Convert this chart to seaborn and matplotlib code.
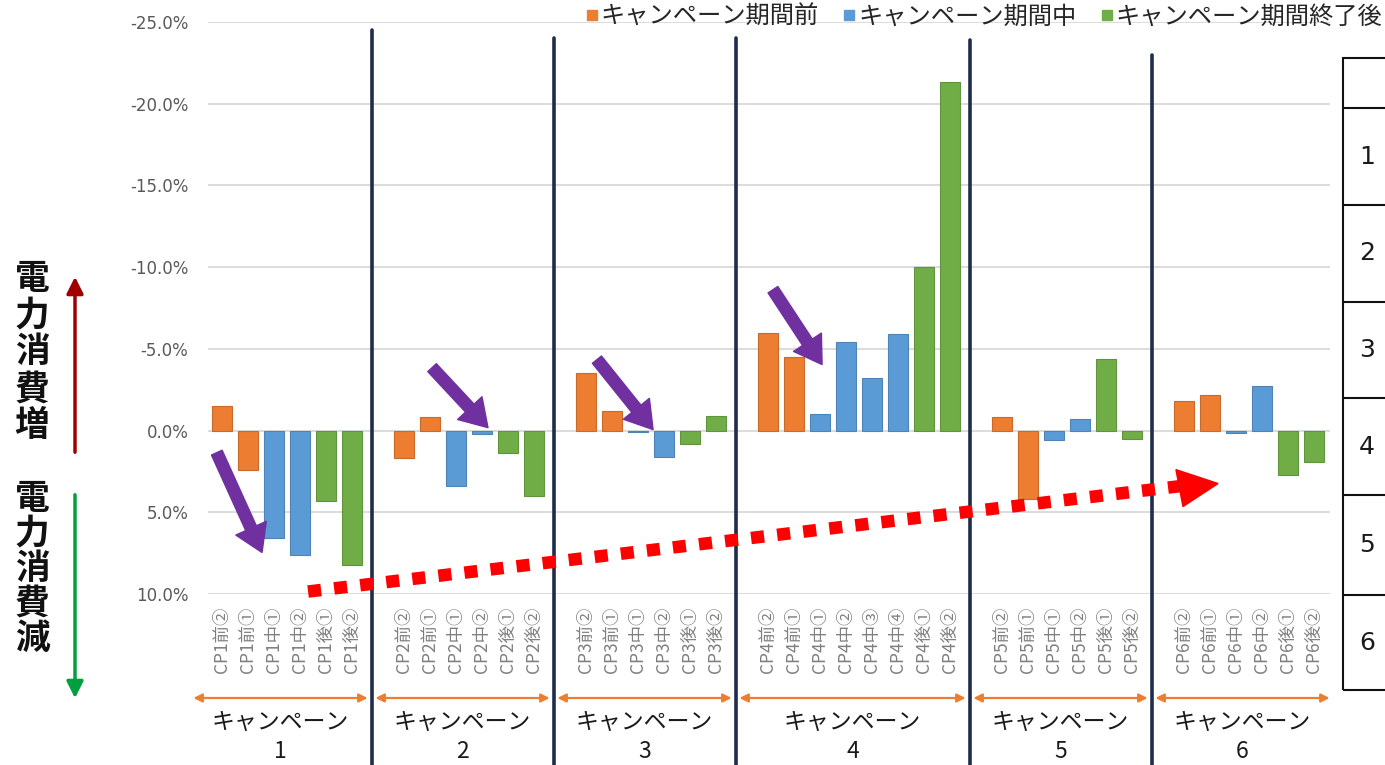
import matplotlib
matplotlib.use("Agg")
import matplotlib.pyplot as plt
import seaborn as sns
import pandas as pd
import numpy as np
from matplotlib.lines import Line2D
from matplotlib.patches import Polygon, Rectangle, FancyArrowPatch
from matplotlib.transforms import blended_transform_factory
from matplotlib.ticker import FuncFormatter, FixedLocator

# ---- data -------------------------------------------------------------
campaigns = ["1", "2", "3", "4", "5", "6"]

cp1_labels = ["CP1前②", "CP1前①", "CP1中①", "CP1中②", "CP1後①", "CP1後②"]
cp2_labels = ["CP2前②", "CP2前①", "CP2中①", "CP2中②", "CP2後①", "CP2後②"]
cp3_labels = ["CP3前②", "CP3前①", "CP3中①", "CP3中②", "CP3後①", "CP3後②"]
cp4_labels = ["CP4前②", "CP4前①", "CP4中①", "CP4中②", "CP4中③", "CP4中④", "CP4後①", "CP4後②"]
cp5_labels = ["CP5前②", "CP5前①", "CP5中①", "CP5中②", "CP5後①", "CP5後②"]
cp6_labels = ["CP6前②", "CP6前①", "CP6中①", "CP6中②", "CP6後①", "CP6後②"]

# change in power consumption (%), negative = consumption increased
cp1_values = [-1.5, 2.4, 6.6, 7.6, 4.3, 8.2]
cp2_values = [1.7, -0.8, 3.4, 0.2, 1.4, 4.0]
cp3_values = [-3.5, -1.2, 0.1, 1.6, 0.8, -0.9]
cp4_values = [-6.0, -4.5, -1.0, -5.4, -3.2, -5.9, -10.0, -21.3]
cp5_values = [-0.8, 4.2, 0.6, -0.7, -4.4, 0.5]
cp6_values = [-1.8, -2.2, 0.15, -2.7, 2.7, 1.9]

phase_names = ["キャンペーン期間前", "キャンペーン期間中", "キャンペーン期間終了後"]
phase_keys = ["前", "中", "後"]
phase_colors = ["#ED7D31", "#5B9BD5", "#70AD47"]

y_ticks = [-25, -20, -15, -10, -5, 0, 5, 10]

group_labels = [cp1_labels, cp2_labels, cp3_labels, cp4_labels, cp5_labels, cp6_labels]
group_values = [cp1_values, cp2_values, cp3_values, cp4_values, cp5_values, cp6_values]

# ---- table for seaborn ------------------------------------------------
rows = []
order = []
group_spans = []  # (first slot, last slot) per campaign
for gi, (labs, vals) in enumerate(zip(group_labels, group_values)):
    first = len(order)
    for lab, val in zip(labs, vals):
        phase = phase_names[phase_keys.index(lab[3])]
        rows.append({"label": lab, "value": val, "phase": phase})
        order.append(lab)
    group_spans.append((first, len(order) - 1))
    if gi < len(group_labels) - 1:
        order.append(f"_gap{gi}")  # empty slot between campaigns
df = pd.DataFrame(rows)

# ---- figure -----------------------------------------------------------
sns.set_style("white")
plt.rcParams["font.family"] = ["Noto Sans CJK JP", "DejaVu Sans"]

W, H = 1385, 765
fig = plt.figure(figsize=(W / 100, H / 100), dpi=100)


def fx(px):
    return px / W


def fy(py):
    return 1 - py / H


ax = fig.add_axes([fx(207.7), fy(594), fx(1121.9), (594 - 22) / H])

sns.barplot(
    data=df, x="label", y="value", hue="phase", order=order,
    hue_order=phase_names, palette=dict(zip(phase_names, phase_colors)),
    dodge=False, width=0.78, saturation=1, legend=False, ax=ax, zorder=3,
)
for p in ax.patches:
    fc = np.array(p.get_facecolor()[:3])
    p.set_edgecolor(tuple(fc * 0.85))
    p.set_linewidth(0.8)

ax.set_ylim(10, -25)
ax.set_xlim(-0.55, 42.6)
ax.yaxis.set_major_locator(FixedLocator(y_ticks))
ax.yaxis.set_major_formatter(FuncFormatter(lambda v, _: f"{v:.1f}%".replace("-0.0", "0.0")))
ax.yaxis.grid(True, color="#D9D9D9", lw=1.3, zorder=0)
ax.xaxis.grid(False)
ax.set_axisbelow(True)
for s in ax.spines.values():
    s.set_visible(False)
ax.set_xlabel("")
ax.set_ylabel("")
ax.set_xticks(range(len(order)))
ax.set_xticklabels(["" if o.startswith("_gap") else o for o in order],
                   rotation=90, fontsize=12.5, color="#7F7F7F")
ax.tick_params(axis="x", length=0, pad=9)
ax.tick_params(axis="y", length=0, pad=14, labelsize=12, labelcolor="#595959")
for t in ax.get_yticklabels():
    t.set_family("DejaVu Sans")

# ---- campaign separators, brackets and names -----------------------------
bx = blended_transform_factory(ax.transData, fig.transFigure)
sep_tops = [30, 38, 38, 40, 55]
for gi in range(len(group_spans) - 1):
    xs = group_spans[gi][1] + 1 - 0.25
    ax.plot([xs, xs], [fy(sep_tops[gi]), fy(765)], color="#1F2D4A", lw=2.6,
            transform=bx, clip_on=False, zorder=6)

for (first, last), name in zip(group_spans, campaigns):
    x0, x1 = first - 1.1, last + 0.6
    ax.annotate("", xy=(x0, fy(698)), xytext=(x1, fy(698)), xycoords=bx, textcoords=bx,
                arrowprops=dict(arrowstyle="<|-|>,head_length=0.5,head_width=0.25",
                                color="#ED7D31", lw=1.6, shrinkA=0, shrinkB=0),
                annotation_clip=False)
    xc = (x0 + x1) / 2
    ax.text(xc, fy(722), "キャンペーン", transform=bx, ha="center", va="center",
            fontsize=16.5, color="#1a1a1a")
    ax.text(xc, fy(752), name, transform=bx, ha="center", va="center",
            fontsize=16.5, color="#1a1a1a")

# ---- highlight arrows ---------------------------------------------------
purple_arrows = [((-0.2, 1.35), (1.54, 7.46)),
                 ((8.08, -3.85), (10.23, -0.18)),
                 ((14.42, -4.34), (16.58, -0.06)),
                 ((21.19, -8.62), (23.08, -4.04))]
for start, tip in purple_arrows:
    ax.annotate("", xy=tip, xytext=start,
                arrowprops=dict(arrowstyle="simple,head_length=1.6,head_width=2.0,tail_width=0.7",
                                mutation_scale=12, color="#7030A0", shrinkA=0, shrinkB=0),
                zorder=7, annotation_clip=False)

# trend arrow
ax.plot([3.31, 36.85], [9.85, 3.40], color="#FF0000", lw=9,
        linestyle=(0, (1.05, 1.05)), dash_capstyle="butt", clip_on=False, zorder=7)
ax.add_patch(Polygon([(36.69, 2.39), (38.31, 3.24), (36.96, 4.65)], closed=True,
                     color="#FF0000", clip_on=False, zorder=7))

# ---- left side labels -----------------------------------------------------
fig.text(fx(32), fy(352), "電\n力\n消\n費\n増", ha="center", va="center",
         fontsize=25, fontweight="bold", linespacing=1.06, color="#111111")
fig.text(fx(32), fy(568), "電\n力\n消\n費\n減", ha="center", va="center",
         fontsize=25, fontweight="bold", linespacing=1.0, color="#111111")
fig.add_artist(FancyArrowPatch(
    (fx(75), fy(455)), (fx(75), fy(274)), transform=fig.transFigure,
    arrowstyle="-|>,head_length=0.5,head_width=0.25", color="#A00000", lw=2.5,
    mutation_scale=20))
fig.add_artist(FancyArrowPatch(
    (fx(75), fy(492)), (fx(75), fy(701)), transform=fig.transFigure,
    arrowstyle="-|>,head_length=0.5,head_width=0.25", color="#00A03C", lw=2.5,
    mutation_scale=20))

# ---- legend ---------------------------------------------------------------
handles = [Line2D([], [], marker="s", ls="", color=c, markersize=7.5) for c in phase_colors]
fig.legend(handles, phase_names, loc="upper left", bbox_to_anchor=(fx(585), fy(4)),
           ncol=3, frameon=False, fontsize=17.5, handletextpad=0.05, columnspacing=0.95,
           handlelength=0.6, borderaxespad=0, borderpad=0)

# ---- side table -------------------------------------------------------------
row_edges = [58, 108, 205, 302, 398, 495, 595, 690]
fig.add_artist(Rectangle((fx(1343), fy(690)), fx(80), (690 - 58) / H,
                         transform=fig.transFigure, fill=False, lw=1.5, ec="#111111"))
for ye in row_edges[1:-1]:
    fig.add_artist(Line2D([fx(1343), 1.0], [fy(ye), fy(ye)], transform=fig.transFigure,
                          color="#111111", lw=1.5))
for i, name in enumerate(campaigns):
    yc = (row_edges[i + 1] + row_edges[i + 2]) / 2
    fig.text(fx(1367), fy(yc), name, ha="center", va="center", fontsize=18,
             family="DejaVu Sans", color="#1a1a1a")

fig.savefig("out.png", dpi=100)
